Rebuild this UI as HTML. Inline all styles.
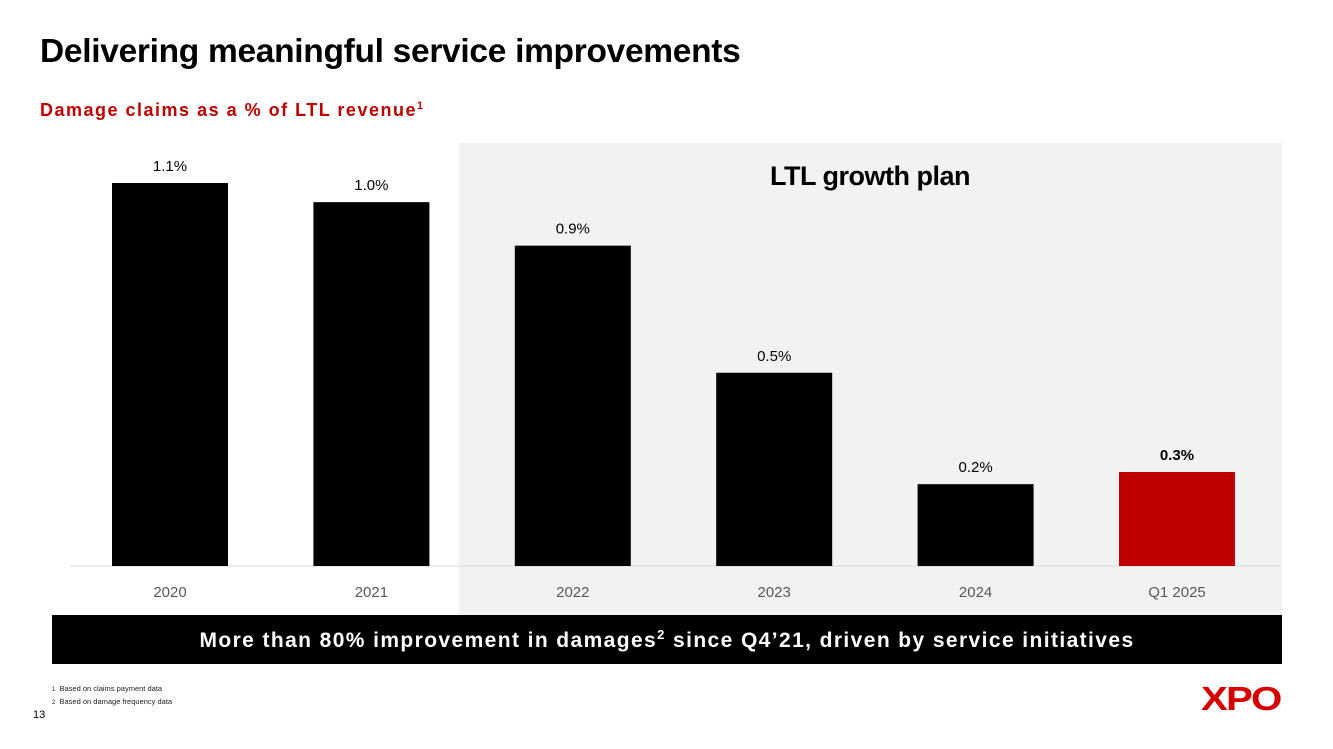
<!DOCTYPE html>
<html><head><meta charset="utf-8"><style>
body{margin:0;width:1333px;height:749px;background:#fff;position:relative;overflow:hidden;font-family:"Liberation Sans",sans-serif}
.abs{position:absolute}
</style></head><body>
<div class="abs" style="left:40px;top:33px;font-size:33.5px;font-weight:bold;color:#000;letter-spacing:-0.3px">Delivering meaningful service improvements</div>
<div class="abs" style="left:40px;top:100px;font-size:18px;font-weight:bold;color:#c00000;letter-spacing:1.5px">Damage claims as a % of LTL revenue<sup style="font-size:11px">1</sup></div>
<svg class="abs" style="left:0;top:0" width="1333" height="749" id="chart">
<rect x="459" y="143" width="823" height="472" fill="#f2f2f2"/>
<text x="870" y="185" text-anchor="middle" font-size="27" font-weight="bold" font-family="Liberation Sans, sans-serif" letter-spacing="-0.5">LTL growth plan</text>
<line x1="70" y1="566" x2="1280" y2="566" stroke="#d9d9d9" stroke-width="1"/>
<g id="bars"></g>
</svg>
<div class="abs" style="left:52px;top:615px;width:1230px;height:49px;background:#000;color:#fff;font-size:21px;font-weight:bold;text-align:center;line-height:52px;letter-spacing:1.4px">More than 80% improvement in damages<sup style="font-size:13px;line-height:0">2</sup> since Q4’21, driven by service initiatives</div>
<div class="abs" style="left:52px;top:683px;font-size:7.5px;color:#222;line-height:11px"><span style="font-size:6px">1</span>&nbsp; Based on claims payment data<br><span style="font-size:6px">2</span>&nbsp; Based on damage frequency data</div>
<div class="abs" style="left:33px;top:709px;font-size:11px">13</div>
<div class="abs" style="left:1201px;top:680px;font-size:33px;font-weight:900;color:#d50000;letter-spacing:-1.5px;font-family:'Liberation Sans',sans-serif;transform:scaleX(1.22);transform-origin:left top">XPO</div>
<script>
const categories=["2020","2021","2022","2023","2024","Q1 2025"];
const values=[1.10,1.045,0.92,0.555,0.235,0.27];
const valueLabels=["1.1%","1.0%","0.9%","0.5%","0.2%","0.3%"];
const highlight=[false,false,false,false,false,true];
const ns="http://www.w3.org/2000/svg";
const g=document.getElementById("bars");
const baseY=566, plotH=383, maxV=1.10, x0=70, step=201.4, bw=116;
function xC(i){return x0+100+i*step;}
function yS(v){return baseY-v/maxV*plotH;}
categories.forEach((c,i)=>{
 const r=document.createElementNS(ns,"rect");
 
 
 r.setAttribute("x",xC(i)-bw/2);r.setAttribute("y",yS(values[i]));
 r.setAttribute("width",bw);r.setAttribute("height",baseY-yS(values[i]));
 r.setAttribute("fill",highlight[i]?"#c00000":"#000");g.appendChild(r);
 const t=document.createElementNS(ns,"text");
 
 
 t.setAttribute("x",xC(i));t.setAttribute("y",yS(values[i])-12);
 t.setAttribute("text-anchor","middle");t.setAttribute("font-size","15");
 t.setAttribute("font-family","Liberation Sans, sans-serif");
 if(highlight[i])t.setAttribute("font-weight","bold");
 t.textContent=valueLabels[i];g.appendChild(t);
 const l=document.createElementNS(ns,"text");
 
 
 l.setAttribute("x",xC(i));l.setAttribute("y",597);
 l.setAttribute("text-anchor","middle");l.setAttribute("font-size","15");
 l.setAttribute("fill","#595959");l.setAttribute("font-family","Liberation Sans, sans-serif");
 l.textContent=c;g.appendChild(l);
});
</script>
</body></html>
